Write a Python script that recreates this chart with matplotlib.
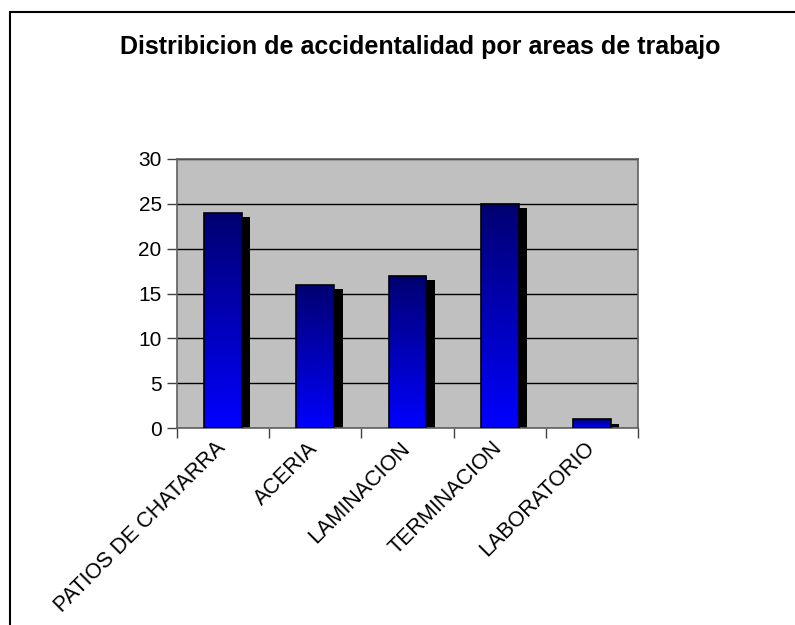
import numpy as np
import matplotlib.pyplot as plt
from matplotlib.patches import Rectangle
from matplotlib.colors import LinearSegmentedColormap

categorias = ['PATIOS DE CHATARRA', 'ACERIA', 'LAMINACION', 'TERMINACION', 'LABORATORIO']
accidentes = [24, 16, 17, 25, 1]
yticks = [0, 5, 10, 15, 20, 25, 30]

plt.rcParams['font.family'] = ['Liberation Sans', 'DejaVu Sans']

fig = plt.figure(figsize=(7.95, 6.25), dpi=100)
ax = fig.add_axes([0.2226, 0.3152, 0.58, 0.4304])
ax.set_facecolor('#C0C0C0')

x = np.arange(len(categorias))
width = 0.41

# sombra de las barras
ax.bar(x + 0.09, np.array(accidentes) - 0.5, width, color='black', zorder=2)
bars = ax.bar(x, accidentes, width, color='none', edgecolor='black', linewidth=1.2, zorder=4)

# degradado azul dentro de cada barra
grad = np.linspace(0, 1, 256).reshape(-1, 1)
cmap = LinearSegmentedColormap.from_list('azul', ['#0000FF', '#000070'])
for b in bars:
    x0, w, h = b.get_x(), b.get_width(), b.get_height()
    im = ax.imshow(grad, extent=[x0, x0 + w, 0, h], origin='lower', aspect='auto',
                   cmap=cmap, zorder=3)
    im.set_clip_path(b)

ax.set_xlim(-0.5, len(categorias) - 0.5)
ax.set_ylim(0, 30)
ax.set_yticks(yticks)
ax.yaxis.grid(True, color='black', linewidth=1)
ax.set_axisbelow(True)
ax.tick_params(axis='y', labelsize=15, length=7, width=1, color='#404040', pad=4)
ax.set_xticks(np.arange(len(categorias) + 1) - 0.5)
ax.set_xticklabels([])
ax.tick_params(axis='x', length=7, width=1, color='#404040')
for s in ax.spines.values():
    s.set_color('#606060')
    s.set_linewidth(1.2)

for xi, lab in zip(x, categorias):
    ax.annotate(lab, xy=(xi, 0), xycoords=('data', 'axes fraction'),
                xytext=(-6, -7), textcoords='offset points',
                rotation=45, ha='right', va='top', rotation_mode='anchor', fontsize=15.5)

fig.text(0.528, 0.925, 'Distribicion de accidentalidad por areas de trabajo',
         ha='center', va='center', fontsize=18, fontweight='bold')

fig.patches.append(Rectangle((10 / 795, -0.1), 1.2, 1.1 - 12 / 625, transform=fig.transFigure,
                             fill=False, edgecolor='black', linewidth=1.5))

fig.savefig('out.png', dpi=100)
